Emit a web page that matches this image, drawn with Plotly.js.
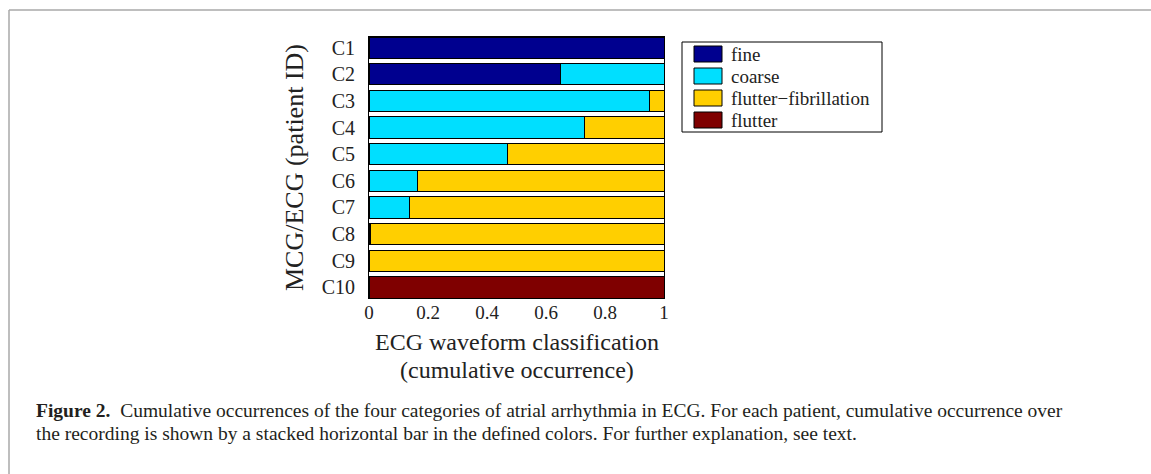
<!DOCTYPE html>
<html>
<head>
<meta charset="utf-8">
<script src="https://cdn.plot.ly/plotly-3.0.1.min.js"></script>
<style>
html,body{margin:0;padding:0;background:#fff;}
#chart{width:1151px;height:474px;}
</style>
</head>
<body>
<div id="chart"></div>
<script>
// ---- data ----
const patients = ['C1','C2','C3','C4','C5','C6','C7','C8','C9','C10'];
const seriesNames = ['fine','coarse','flutter\u2212fibrillation','flutter'];
const fine       = [1.00, 0.65, 0.00, 0.00, 0.00, 0.00,  0.00,  0.004, 0.00, 0.00];
const coarse     = [0.00, 0.35, 0.95, 0.73, 0.47, 0.165, 0.137, 0.00,  0.00, 0.00];
const flutterFib = [0.00, 0.00, 0.05, 0.27, 0.53, 0.835, 0.863, 0.996, 1.00, 0.00];
const flutter    = [0.00, 0.00, 0.00, 0.00, 0.00, 0.00,  0.00,  0.00,  0.00, 1.00];
const xTickVals  = [0, 0.2, 0.4, 0.6, 0.8, 1];
const xTickText  = ['0','0.2','0.4','0.6','0.8','1'];

// ---- styling ----
const colors = ['#00008F', '#00DFFF', '#FFCF00', '#7F0000'];
const serif = 'Liberation Serif, Times New Roman, serif';
const textCol = '#222222';

// plot-area pixel geometry
const W = 1151, H = 474;
const L = 369, R = 664, T = 37, B = 298;
const px2x = p => (p - L) / (R - L);
const py2y = p => (B - p) / (B - T);

const values = [fine, coarse, flutterFib, flutter];
const traces = values.map((v, i) => ({
  type: 'bar',
  orientation: 'h',
  name: seriesNames[i],
  y: patients,
  x: v,
  marker: {color: colors[i], line: {color: '#000000', width: 1}},
  showlegend: false,
  hoverinfo: 'name+x'
}));

// manual legend (MATLAB-style)
const shapes = [];
const annotations = [];
shapes.push({type:'rect', xref:'paper', yref:'paper',
  x0: px2x(682), x1: px2x(882), y0: py2y(132), y1: py2y(42),
  line:{color:'#000', width:1}, fillcolor:'#fff'});
const legCenters = [54, 76, 98, 120];
seriesNames.forEach((n, i) => {
  const c = legCenters[i];
  shapes.push({type:'rect', xref:'paper', yref:'paper',
    x0: px2x(694), x1: px2x(722), y0: py2y(c + 8), y1: py2y(c - 8),
    line:{color:'#000', width:1}, fillcolor: colors[i]});
  annotations.push({xref:'paper', yref:'paper', x: px2x(729), y: py2y(c),
    xanchor:'left', yanchor:'middle', showarrow:false, text: n,
    font:{family: serif, size: 19, color: textCol}});
});

// outer figure frame (top and left edges visible)
shapes.push({type:'line', xref:'paper', yref:'paper',
  x0: px2x(9), x1: px2x(1200), y0: py2y(10), y1: py2y(10),
  line:{color:'#a8a8a8', width:1.5}});
shapes.push({type:'line', xref:'paper', yref:'paper',
  x0: px2x(9), x1: px2x(9), y0: py2y(10), y1: py2y(520),
  line:{color:'#a8a8a8', width:1.5}});

// x-axis title, two tightly spaced lines
const xTitleFont = {family: serif, size: 24, color: textCol};
annotations.push({xref:'paper', yref:'paper', x: 0.5, y: py2y(342),
  xanchor:'center', yanchor:'middle', showarrow:false,
  text:'ECG waveform classification', font: xTitleFont});
annotations.push({xref:'paper', yref:'paper', x: 0.5, y: py2y(370),
  xanchor:'center', yanchor:'middle', showarrow:false,
  text:'(cumulative occurrence)', font: xTitleFont});

// caption
const capFont = {family: serif, size: 19.5, color: '#231f20'};
annotations.push({xref:'paper', yref:'paper', x: px2x(34), y: py2y(410),
  xanchor:'left', yanchor:'middle', showarrow:false, align:'left',
  text:'<b>Figure 2.</b>  Cumulative occurrences of the four categories of atrial arrhythmia in ECG. For each patient, cumulative occurrence over',
  font: capFont});
annotations.push({xref:'paper', yref:'paper', x: px2x(34), y: py2y(433),
  xanchor:'left', yanchor:'middle', showarrow:false, align:'left',
  text:'the recording is shown by a stacked horizontal bar in the defined colors. For further explanation, see text.',
  font: capFont});

const layout = {
  width: W, height: H,
  margin: {l: L, r: W - R, t: T, b: H - B, pad: 0},
  paper_bgcolor: '#ffffff',
  plot_bgcolor: '#ffffff',
  barmode: 'stack',
  bargap: 0.2,
  showlegend: false,
  font: {family: serif, color: textCol},
  xaxis: {
    range: [0, 1],
    tickvals: xTickVals, ticktext: xTickText,
    showgrid: false, zeroline: false,
    showline: true, mirror: true, linecolor: '#000', linewidth: 1,
    ticks: '', ticklabelstandoff: -3,
    tickfont: {family: serif, size: 19, color: textCol},
    automargin: false,
    fixedrange: true
  },
  yaxis: {
    type: 'category',
    categoryorder: 'array', categoryarray: patients,
    range: [9.4, -0.4],
    showgrid: false, zeroline: false,
    showline: true, mirror: true, linecolor: '#000', linewidth: 1,
    ticks: '', ticklabelstandoff: 9,
    tickfont: {family: serif, size: 20, color: textCol},
    title: {text: 'MCG/ECG (patient ID)', standoff: 10,
            font: {family: serif, size: 26, color: textCol}},
    automargin: false,
    fixedrange: true
  },
  shapes: shapes,
  annotations: annotations
};

Plotly.newPlot('chart', traces, layout, {displayModeBar: false, staticPlot: true});
</script>
</body>
</html>
